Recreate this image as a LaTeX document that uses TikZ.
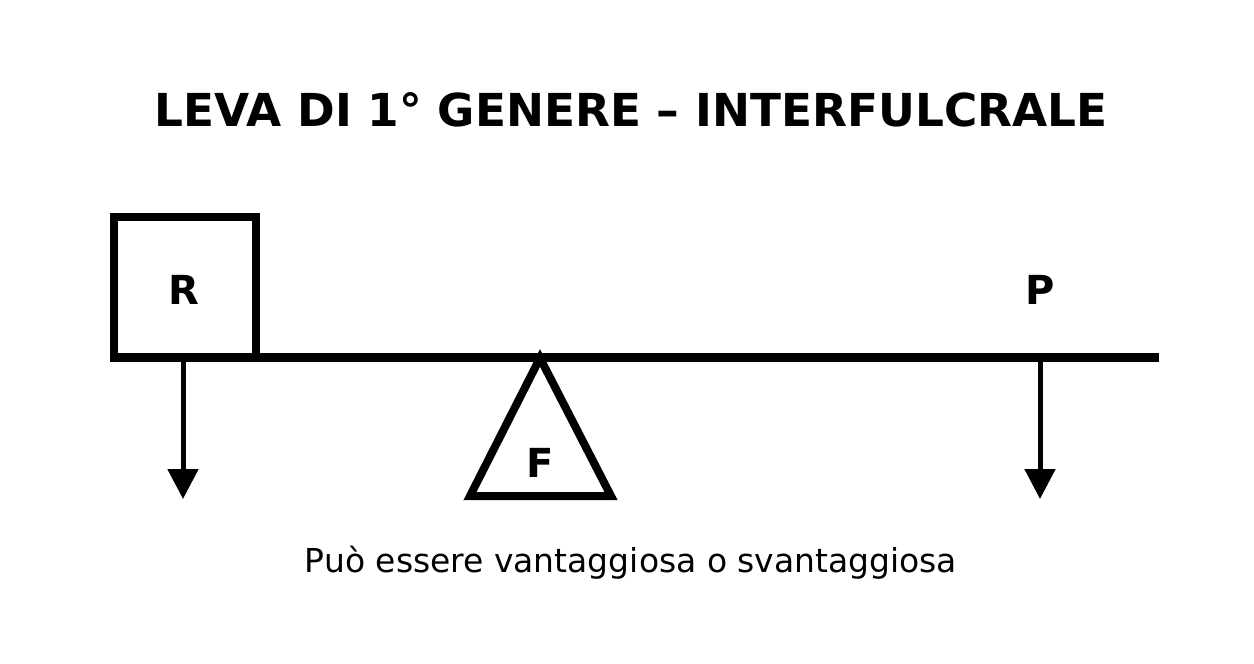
\documentclass[tikz,border=0pt]{standalone}
\usepackage{fontspec}
\setmainfont{DejaVu Sans}
\usetikzlibrary{arrows.meta}
\begin{document}
\begin{tikzpicture}[x=1pt,y=-1pt,
  thickline/.style={line width=9pt},
  outline/.style={line width=8pt},
  force/.style={line width=5pt,-{Triangle[length=30pt,width=30pt]}},
  lbl/.style={font=\fontsize{40}{42}\selectfont\bfseries,inner sep=0pt},
  title/.style={font=\fontsize{46}{48}\selectfont\bfseries,inner sep=0pt},
  note/.style={font=\fontsize{33}{36}\selectfont,inner sep=0pt}]
\useasboundingbox[fill=white] (0,0) rectangle (1254,664);
% title
\node[title] (t) at (631,110) {\resizebox{953pt}{!}{LEVA DI 1° GENERE – INTERFULCRALE}};
% beam
\coordinate (bl) at (110,357);
\coordinate (br) at (1159,357);
\draw[thickline] (bl) -- (br);
% box R
\draw[outline] (114,357) |- (256,217) -- (256,357);
\node[lbl] (R) at (184,290) {R};
% arrows
\coordinate (ra) at (183,357);
\coordinate (rb) at (183,499);
\draw[force] (ra) -- (rb);
\coordinate (pa) at (1040,357);
\coordinate (pb) at (1040,499);
\draw[force] (pa) -- (pb);
\node[lbl] (P) at (1040,290) {P};
% fulcrum
\coordinate (apex) at (540,358);
\coordinate (fl) at (470,496);
\coordinate (fr) at (611,496);
\draw[outline,line join=miter] (apex) -- (fl) -- (fr) -- cycle;
\node[lbl] (F) at (540,463) {F};
% note
\node[note] (n) at (631,563) {\resizebox{652pt}{!}{Può essere vantaggiosa o svantaggiosa}};
\end{tikzpicture}
\end{document}
